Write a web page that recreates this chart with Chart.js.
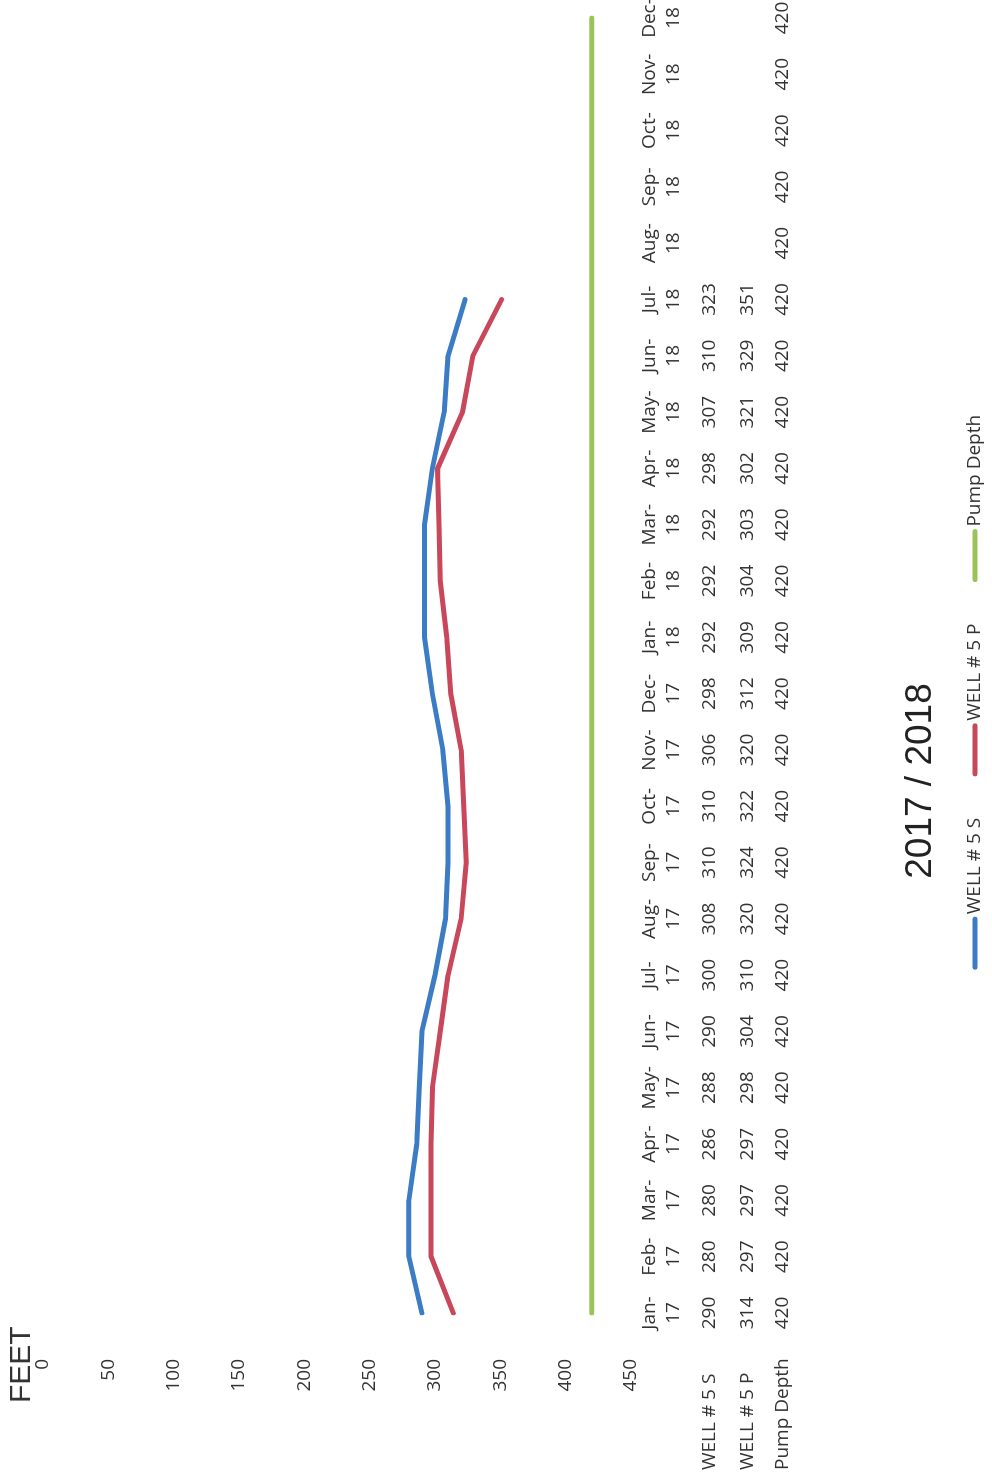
<!DOCTYPE html>
<html>
<head>
<meta charset="utf-8">
<script src="https://cdn.jsdelivr.net/npm/chart.js@4.4.1/dist/chart.umd.min.js"></script>
<style>
  html, body { margin: 0; padding: 0; background: #fff; overflow: hidden; }
  body { width: 992px; height: 1479px; position: relative; }
  /* the sheet was photographed sideways, so the chart is turned a quarter left */
  #sheet {
    position: absolute; left: 0; top: 1479px;
    width: 1520px; height: 992px;
    transform-origin: 0 0; transform: rotate(-90deg);
  }
</style>
</head>
<body>
<div id="sheet"><canvas id="chart" width="1520" height="992"></canvas></div>
<script>
// months shown on the category axis (two lines each)
const months = ['Jan','Feb','Mar','Apr','May','Jun','Jul','Aug','Sep','Oct','Nov','Dec'];
const years  = ['17','18'];
const monthLabels = [];
years.forEach(yy => months.forEach(m => monthLabels.push([m + '-', yy])));

// depth to water, feet
const well5S    = [290, 280, 280, 286, 288, 290, 300, 308, 310, 310, 306, 298,
                   292, 292, 292, 298, 307, 310, 323, null, null, null, null, null];
const well5P    = [314, 297, 297, 297, 298, 304, 310, 320, 324, 322, 320, 312,
                   309, 304, 303, 302, 321, 329, 351, null, null, null, null, null];
const pumpDepth = [420, 420, 420, 420, 420, 420, 420, 420, 420, 420, 420, 420,
                   420, 420, 420, 420, 420, 420, 420, 420, 420, 420, 420, 420];

const yTicks = [0, 50, 100, 150, 200, 250, 300, 350, 400, 450];
const titleText = '2017 / 2018';
const axisTitle = 'FEET';

const FONT = "'Open Sans', 'Liberation Sans', sans-serif";
const INK  = '#333333';

const seriesNames  = ['WELL # 5 S', 'WELL # 5 P', 'Pump Depth'];
const seriesColors = ['#3b7cc4', '#c9475b', '#9cc35a'];

// data table, title and legend under the plot
const tablePlugin = {
  id: 'sheetExtras',
  afterDraw(chart) {
    const ctx = chart.ctx;
    const x = chart.scales.x;
    const rows = [
      { name: seriesNames[0], vals: well5S,    y: 710 },
      { name: seriesNames[1], vals: well5P,    y: 748 },
      { name: seriesNames[2], vals: pumpDepth, y: 783 },
    ];
    ctx.save();
    ctx.fillStyle = INK;
    ctx.font = '19px ' + FONT;
    ctx.textBaseline = 'middle';
    rows.forEach(r => {
      ctx.textAlign = 'left';
      ctx.fillText(r.name, 9, r.y);
      ctx.textAlign = 'center';
      r.vals.forEach((v, i) => {
        if (v !== null) ctx.fillText(String(v), x.getPixelForValue(i), r.y);
      });
    });

    // axis caption
    ctx.textAlign = 'left';
    ctx.font = "30px 'Liberation Sans', Arial, sans-serif";
    ctx.fillText(axisTitle, 76, 22);

    // title
    ctx.fillStyle = '#222';
    ctx.font = "37px 'Liberation Sans', Arial, sans-serif";
    ctx.textAlign = 'center';
    ctx.fillText(titleText, 698, 921);

    // legend
    ctx.font = '19px ' + FONT;
    const lineLen = 48, gapTxt = 5, gapItem = 44;
    const widths = seriesNames.map(n => ctx.measureText(n).width);
    const total = widths.reduce((a, w) => a + lineLen + gapTxt + w, 0) + gapItem * 2;
    let lx = 788 - total / 2;
    const ly = 975;
    ctx.textAlign = 'left';
    ctx.lineCap = 'round';
    seriesNames.forEach((n, i) => {
      ctx.strokeStyle = seriesColors[i];
      ctx.lineWidth = 5;
      ctx.beginPath();
      ctx.moveTo(lx, ly);
      ctx.lineTo(lx + lineLen, ly);
      ctx.stroke();
      ctx.fillStyle = INK;
      ctx.fillText(n, lx + lineLen + gapTxt, ly);
      lx += lineLen + gapTxt + widths[i] + gapItem;
    });
    ctx.restore();
  }
};

const lineStyle = {
  borderWidth: 5,
  pointRadius: 0,
  tension: 0,
  borderCapStyle: 'round',
  borderJoinStyle: 'round',
  spanGaps: false,
};

new Chart(document.getElementById('chart'), {
  type: 'line',
  data: {
    labels: monthLabels,
    datasets: [
      { label: seriesNames[0], data: well5S,    borderColor: seriesColors[0], backgroundColor: seriesColors[0], ...lineStyle },
      { label: seriesNames[1], data: well5P,    borderColor: seriesColors[1], backgroundColor: seriesColors[1], ...lineStyle },
      { label: seriesNames[2], data: pumpDepth, borderColor: seriesColors[2], backgroundColor: seriesColors[2], ...lineStyle },
    ],
  },
  options: {
    responsive: false,
    animation: false,
    devicePixelRatio: 1,
    layout: { padding: { left: 0, right: 59, top: 43, bottom: 0 } },
    plugins: {
      legend: { display: false },
      title: { display: false },
      tooltip: { enabled: false },
    },
    scales: {
      x: {
        type: 'category',
        offset: false,
        grid: { display: false, drawTicks: false },
        border: { display: false },
        ticks: {
          autoSkip: false,
          maxRotation: 0,
          minRotation: 0,
          padding: 7,
          color: INK,
          font: { size: 19, family: FONT, lineHeight: 1.25 },
        },
        afterFit: s => { s.height = 361; },
      },
      y: {
        reverse: true,
        min: 0,
        max: 450,
        grid: { display: false, drawTicks: false },
        border: { display: false },
        afterBuildTicks: s => { s.ticks = yTicks.map(v => ({ value: v })); },
        ticks: {
          padding: 46,
          color: INK,
          font: { size: 19, family: FONT },
        },
        afterFit: s => { s.width = 166; s.paddingTop = 0; s.paddingBottom = 0; },
      },
    },
  },
  plugins: [tablePlugin],
});
</script>
</body>
</html>
